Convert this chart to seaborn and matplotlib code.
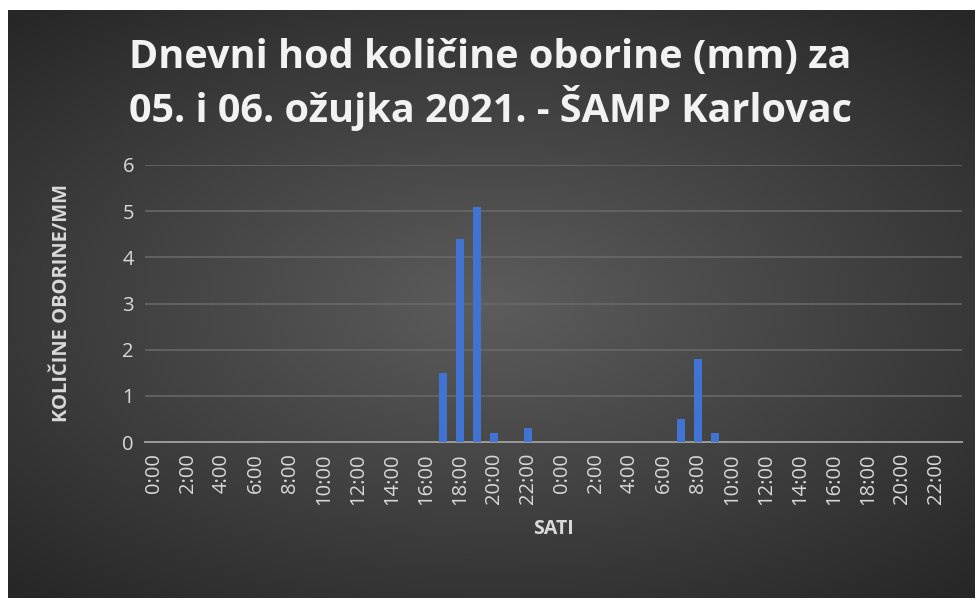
import numpy as np
import pandas as pd
import matplotlib
matplotlib.use("Agg")
import matplotlib.pyplot as plt
import seaborn as sns

# hourly slots for two days (05. and 06. March 2021)
hour_labels = ["0:00", "1:00", "2:00", "3:00", "4:00", "5:00", "6:00", "7:00",
               "8:00", "9:00", "10:00", "11:00", "12:00", "13:00", "14:00", "15:00",
               "16:00", "17:00", "18:00", "19:00", "20:00", "21:00", "22:00", "23:00"]
days = ["05.03.", "06.03."]

precip_day1 = [0, 0, 0, 0, 0, 0, 0, 0, 0, 0, 0, 0,
               0, 0, 0, 0, 0, 1.5, 4.4, 5.1, 0.2, 0, 0.3, 0]
precip_day2 = [0, 0, 0, 0, 0, 0, 0, 0.5, 1.8, 0.2, 0, 0,
               0, 0, 0, 0, 0, 0, 0, 0, 0, 0, 0, 0]

df = pd.DataFrame({
    "slot": [f"{d} {h}" for d in days for h in hour_labels],
    "hour": hour_labels * 2,
    "mm": precip_day1 + precip_day2,
})

sns.set_theme(style="dark")
plt.rcParams["font.family"] = ["Open Sans", "DejaVu Sans"]

W, H = 980, 608
fig = plt.figure(figsize=(W / 100, H / 100), dpi=100)
fig.patch.set_facecolor("white")

# dark radial-gradient panel behind the chart
bg = fig.add_axes([8 / W, 10 / H, (975 - 8) / W, (598 - 10) / H])
yy, xx = np.mgrid[-1:1:300j, -1:1:480j]
r = np.sqrt((xx * 0.9) ** 2 + (yy * 1.0) ** 2)
grad = np.clip(1 - r / 1.35, 0, 1)
bg.imshow(grad, cmap=matplotlib.colors.LinearSegmentedColormap.from_list(
    "g", ["#262626", "#5c5c5c"]), aspect="auto", extent=[0, 1, 0, 1])
bg.set_axis_off()

ax = fig.add_axes([145 / W, 1 - 442 / H, (962 - 145) / W, (442 - 165) / H])
ax.patch.set_alpha(0)

sns.barplot(data=df, x="slot", y="mm", color="#4174d2", width=0.47,
            saturation=1, ax=ax, zorder=3, edgecolor="none", linewidth=0)

ax.set_ylim(0, 6)
ax.set_yticks(range(0, 7))
ax.yaxis.grid(True, color="#6a6a6a", linewidth=1.1, zorder=0)
ax.xaxis.grid(False)
ax.set_xlim(-0.5, len(df) - 0.5)

ticks = list(range(0, len(df), 2))
ax.set_xticks(ticks)
ax.set_xticklabels(df["hour"].iloc[ticks], rotation=90, color="#d9d9d9", fontsize=14.5)
for lbl in ax.get_yticklabels():
    lbl.set_color("#d9d9d9")
    lbl.set_fontsize(14.5)
ax.tick_params(axis="both", length=0, pad=8)

for s in ["top", "right", "left"]:
    ax.spines[s].set_visible(False)
ax.spines["bottom"].set_color("#9a9a9a")
ax.spines["bottom"].set_linewidth(1.4)

ax.set_xlabel("SATI", color="#d9d9d9", fontsize=14, fontweight="bold", labelpad=10)
ax.set_ylabel("KOLIČINE OBORINE/MM", color="#d9d9d9", fontsize=14.5,
              fontweight="bold", labelpad=36)

fig.text(0.5, 1 - 58 / H, "Dnevni hod količine oborine (mm) za",
         ha="center", va="center", color="#f2f2f2", fontsize=28.5, fontweight="bold")
fig.text(0.5, 1 - 108 / H, "05. i 06. ožujka 2021. - ŠAMP Karlovac",
         ha="center", va="center", color="#f2f2f2", fontsize=28.5, fontweight="bold")

fig.savefig("out.png", dpi=100, facecolor=fig.get_facecolor())
